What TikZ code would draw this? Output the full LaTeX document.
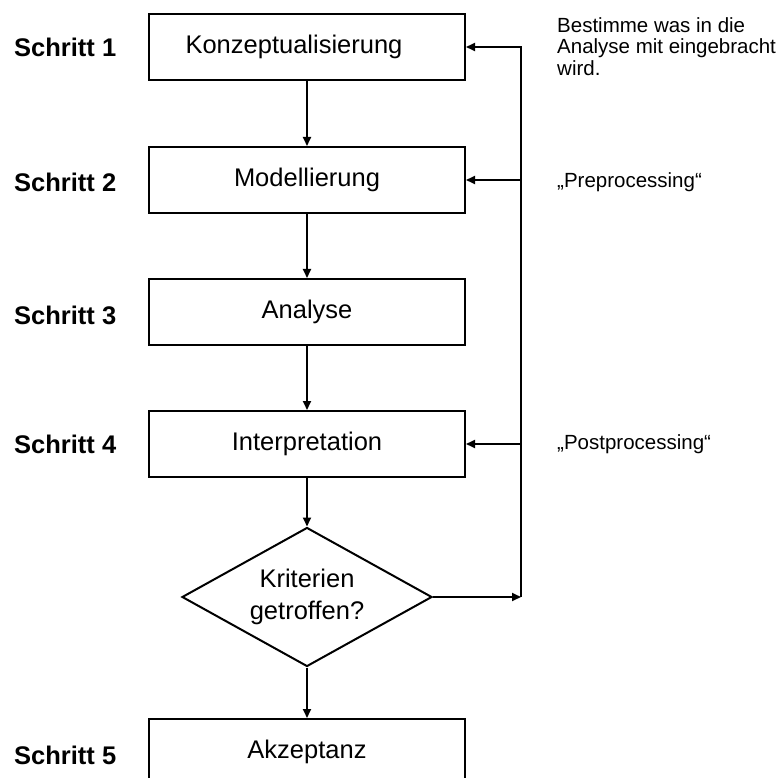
\documentclass[tikz,border=0pt]{standalone}
\usepackage{fontspec}
\setmainfont{Liberation Sans}
\usetikzlibrary{shapes.geometric,arrows.meta}
\begin{document}
\begin{tikzpicture}[x=1pt,y=1pt,
  stepbox/.style={draw,line width=2pt,minimum width=316pt,minimum height=66pt,
    inner sep=0pt,font=\fontsize{25.5}{30}\selectfont},
  decision/.style={draw,diamond,line width=2pt,minimum width=250pt,minimum height=139pt,
    aspect=1.8,inner sep=0pt,align=center,font=\fontsize{25.5}{32}\selectfont},
  steplabel/.style={anchor=west,inner sep=0pt,font=\fontsize{25.5}{30}\selectfont\bfseries},
  note/.style={anchor=west,inner sep=0pt,align=left,font=\fontsize{20.5}{21.5}\selectfont},
  flow/.style={line width=1.8pt,-{Triangle[length=9pt,width=8pt]}}]

\useasboundingbox (0,0) rectangle (780,-778);
\clip (0,0) rectangle (780,-778);

% main process chain
\node[stepbox] (b1) at (307,-47)  {Konzeptualisierung\hspace*{26pt}};
\node[stepbox] (b2) at (307,-180) {Modellierung};
\node[stepbox] (b3) at (307,-312) {Analyse};
\node[stepbox] (b4) at (307,-444) {Interpretation};
\node[decision] (d) at (307,-597) {Kriterien\\getroffen?};
\node[stepbox] (b5) at (307,-752) {Akzeptanz};

% step labels
\node[steplabel] (s1) at (14,-47)  {Schritt 1};
\node[steplabel] (s2) at (14,-182) {Schritt 2};
\node[steplabel] (s3) at (14,-315) {Schritt 3};
\node[steplabel] (s4) at (14,-444) {Schritt 4};
\node[steplabel] (s5) at (14,-755) {Schritt 5};

% side notes
\node[note,anchor=north west] (n1) at (557,-17) {Bestimme was in die\\Analyse mit eingebracht\\wird.};
\node[note] (n2) at (557,-182) {„Preprocessing“};
\node[note] (n3) at (557,-444) {„Postprocessing“};

% forward arrows
\draw[flow] (b1) -- (b2);
\draw[flow] (b2) -- (b3);
\draw[flow] (b3) -- (b4);
\draw[flow] (b4) -- (d);
\draw[flow] (d) -- (b5);

% feedback loop
\coordinate (fb) at (521,-597);
\draw[flow] (d.east) -- (fb);
\draw[flow] (fb) |- (b1.east);
\draw[flow] (fb |- b2.east) -- (b2.east);
\draw[flow] (fb |- b4.east) -- (b4.east);
\end{tikzpicture}
\end{document}
